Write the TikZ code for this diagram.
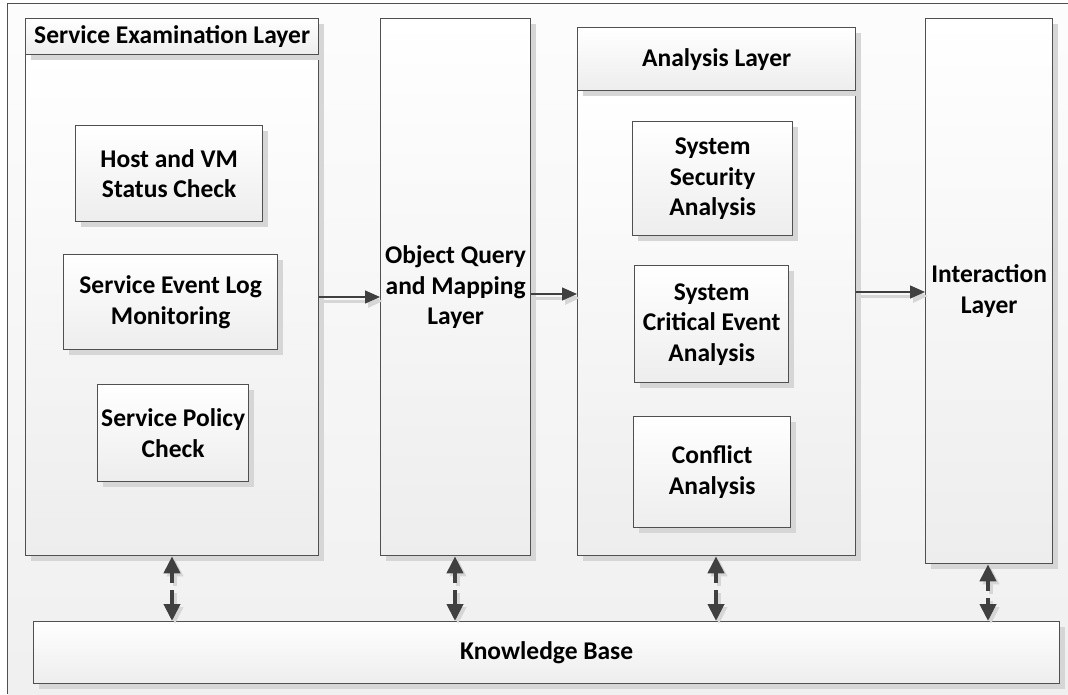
\documentclass[tikz,border=0pt]{standalone}
\usepackage{fontspec}
\setmainfont{Carlito}
\usetikzlibrary{arrows.meta,shadows,calc}

\definecolor{edge}{HTML}{505050}
\definecolor{arrowgray}{HTML}{404040}
\definecolor{shade}{HTML}{D6D6D6}

\tikzset{
  panel/.style={draw=edge, line width=1.3pt, top color=white, bottom color=black!7,
    drop shadow={shadow xshift=5pt, shadow yshift=-5pt, fill=shade, opacity=1},
    anchor=north west, inner sep=2pt, align=center,
    font=\fontsize{25.5}{30.5}\selectfont\bfseries},
  flow/.style={draw=arrowgray, line width=1.3pt, -{Triangle[length=15pt,width=13pt]}},
  flowshadow/.style={draw=shade, line width=3pt, -{Triangle[length=15pt,width=13pt]},
    transform canvas={xshift=3pt, yshift=-4pt}},
  kblink/.style={draw=arrowgray, line width=4pt,
    {Triangle[length=17pt,width=16pt]}-{Triangle[length=17pt,width=16pt]},
    dash pattern=on 11pt off 7pt on 40pt},
  kbshadow/.style={kblink, draw=shade, transform canvas={xshift=3pt, yshift=-3pt}}
}

\begin{document}
\begin{tikzpicture}[x=1pt, y=-1pt]
  % page and outer frame
  \useasboundingbox (0,0) rectangle (1068,694);
  \fill[white] (0,0) rectangle (1068,694);
  \shade[top color=black!1, bottom color=black!6] (7.5,3.5) rectangle (1068,694);
  \draw[edge, line width=1.5pt] (7.5,694) -- (7.5,3.5) -- (1068,3.5);

  % service examination layer
  \node[panel, minimum width=293pt, minimum height=501pt] (svc) at (25,54) {};
  \node[panel, minimum width=293pt, minimum height=36pt] (svchead) at (25,18) {Service Examination Layer};
  \node[panel, minimum width=187pt, minimum height=96pt] (host) at (75,125) {Host and VM\\Status Check};
  \node[panel, minimum width=214pt, minimum height=95pt] (evlog) at (63,254) {Service Event Log\\Monitoring};
  \node[panel, minimum width=151pt, minimum height=97pt] (policy) at (97,384) {Service Policy\\Check};

  % object query and mapping layer
  \node[panel, minimum width=150pt, minimum height=537pt] (obj) at (380,18) {Object Query\\and Mapping\\Layer};

  % analysis layer
  \node[panel, minimum width=278pt, minimum height=465pt] (ana) at (577,90) {};
  \node[panel, minimum width=278pt, minimum height=63pt] (anahead) at (577,27) {Analysis Layer};
  \node[panel, minimum width=160pt, minimum height=114pt] (sec) at (632,121) {System\\Security\\Analysis};
  \node[panel, minimum width=154pt, minimum height=117pt] (crit) at (634,265) {System\\Critical Event\\Analysis};
  \node[panel, minimum width=157pt, minimum height=111pt] (conf) at (633,416) {Conflict\\Analysis};

  % interaction layer
  \node[panel, minimum width=127pt, minimum height=545pt] (inter) at (925,18) {Interaction\\Layer};

  % knowledge base
  \node[panel, minimum width=1026pt, minimum height=62pt] (kb) at (33,621) {Knowledge Base};

  % data flow between layers
  \coordinate (h1) at (0,297);
  \coordinate (h2) at (0,294);
  \coordinate (h3) at (0,292);
  \draw[flowshadow] (svc.east |- h1) -- (obj.west |- h1);
  \draw[flowshadow] (obj.east |- h2) -- (ana.west |- h2);
  \draw[flowshadow] (ana.east |- h3) -- (inter.west |- h3);
  \draw[flow] (svc.east |- h1) -- (obj.west |- h1);
  \draw[flow] (obj.east |- h2) -- (ana.west |- h2);
  \draw[flow] (ana.east |- h3) -- (inter.west |- h3);

  % links to the knowledge base
  \coordinate (k1) at (172,0);
  \coordinate (k2) at (455,0);
  \coordinate (k3) at (716,0);
  \coordinate (k4) at (988,0);
  \draw[kbshadow] (svc.south -| k1) -- (kb.north -| k1);
  \draw[kbshadow] (obj.south -| k2) -- (kb.north -| k2);
  \draw[kbshadow] (ana.south -| k3) -- (kb.north -| k3);
  \draw[kbshadow] (inter.south -| k4) -- (kb.north -| k4);
  \draw[kblink] (svc.south -| k1) -- (kb.north -| k1);
  \draw[kblink] (obj.south -| k2) -- (kb.north -| k2);
  \draw[kblink] (ana.south -| k3) -- (kb.north -| k3);
  \draw[kblink] (inter.south -| k4) -- (kb.north -| k4);
\end{tikzpicture}
\end{document}
